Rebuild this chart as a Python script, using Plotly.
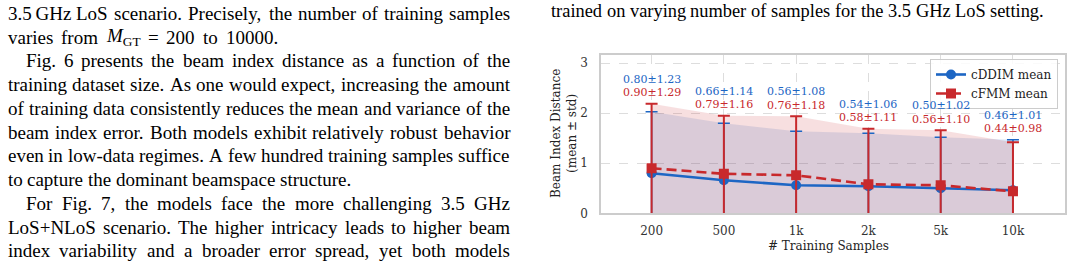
import plotly.graph_objects as go

# ---------------- data ----------------
categories = ["200", "500", "1k", "2k", "5k", "10k"]
cddim_mean = [0.80, 0.66, 0.56, 0.54, 0.50, 0.46]
cddim_std = [1.23, 1.14, 1.08, 1.06, 1.02, 1.01]
cfmm_mean = [0.90, 0.79, 0.76, 0.58, 0.56, 0.44]
cfmm_std = [1.29, 1.16, 1.18, 1.11, 1.10, 0.98]
y_ticks = [0, 1, 2, 3]

# paper text (left column), (text, indented, justified)
left_lines = [
    ("3.5\u2009GHz LoS scenario. Precisely, the number of training samples", False, True),
    (None, False, False),  # math line, built below
    ("Fig. 6 presents the beam index distance as a function of the", True, True),
    ("training dataset size. As one would expect, increasing the amount", False, True),
    ("of training data consistently reduces the mean and variance of the", False, True),
    ("beam index error. Both models exhibit relatively robust behavior", False, True),
    ("even in low-data regimes. A few hundred training samples suffice", False, True),
    ("to capture the dominant beamspace structure.", False, False),
    ("For Fig. 7, the models face the more challenging 3.5 GHz", True, True),
    ("LoS+NLoS scenario. The higher intricacy leads to higher beam", False, True),
    ("index variability and a broader error spread, yet both models", False, True),
]
math_words = ["varies", "from", "<i>M</i><sub>GT</sub>", "=", "200", "to", "10000."]
caption_line = "trained on varying number of samples for the 3.5 GHz LoS setting."

W, H = 1073, 267
BLUE = "#1d66c4"
RED = "#c8292c"
CHART_FONT = "DejaVu Serif"
BODY_FONT = "Liberation Serif"

# Times metrics (per 1000 em) for word placement
TW = {' ': 250, '\u2009': 167, ',': 250, '.': 250, '-': 333, '+': 564, '=': 564, ':': 278}
for c in "0123456789":
    TW[c] = 500
TW.update(dict(zip("ABCDEFGHIJKLMNOPQRSTUVWXYZ",
                   [722, 667, 667, 722, 611, 556, 722, 722, 333, 389, 722, 611, 889, 722, 722, 556, 722, 667, 556,
                    611, 722, 722, 944, 722, 722, 611])))
TW.update(dict(zip("abcdefghijklmnopqrstuvwxyz",
                   [444, 500, 444, 500, 444, 333, 500, 500, 278, 278, 500, 278, 778, 500, 500, 500, 500, 333, 389,
                    278, 500, 500, 722, 500, 500, 444])))


def units(s):
    return sum(TW.get(ch, 500) for ch in s)


annotations = []


def word_ann(text, xpx, ypx, fs, family=BODY_FONT, color="#000"):
    annotations.append(dict(
        text=text, x=xpx / W, y=1 - ypx / H, xref="paper", yref="paper",
        xanchor="left", yanchor="middle", showarrow=False, borderpad=0,
        font=dict(family=family, size=fs, color=color)))


def place_words(words, widths, x0, x1, ypx, fs, justify):
    if justify and len(words) > 1:
        gap = (x1 - x0 - sum(widths)) / (len(words) - 1)
    else:
        gap = TW[' '] * fs / 1000
    x = x0
    for w, wd in zip(words, widths):
        word_ann(w, x, ypx, fs)
        x += wd + gap


def place_line(text, x0, x1, ypx, fs, justify):
    words = text.split(" ")
    place_words(words, [units(w) * fs / 1000 for w in words], x0, x1, ypx, fs, justify)


FS = 19
LX0, LIND, LX1 = 6.5, 25, 509
LINE0, LSTEP = 13.4, 23.75
for i, (txt, ind, just) in enumerate(left_lines):
    yc = LINE0 + LSTEP * i
    if txt is None:
        # "varies from M_GT = 200 to 10000." (stretched spacing in the typeset page)
        mw = [units("varies"), units("from"), 833 + 0.7 * (722 + 611), 564, 1500, units("to"), units("10000.")]
        place_words(math_words, [u * FS / 1000 for u in mw], LX0, 277, yc, FS, True)
        continue
    place_line(txt, LIND if ind else LX0, LX1, yc, FS, just)

place_line(caption_line, 550, 1043, 11.0, 18.4, True)

# ---------------- chart ----------------
fig = go.Figure()


def bounds(m, s):
    up = [round(a + b, 2) for a, b in zip(m, s)]
    lo = [max(0.0, round(a - b, 2)) for a, b in zip(m, s)]
    return lo, up


b_lo, b_up = bounds(cddim_mean, cddim_std)
r_lo, r_up = bounds(cfmm_mean, cfmm_std)

for lo, up, fc in [(b_lo, b_up, "rgba(29,102,196,0.15)"), (r_lo, r_up, "rgba(200,41,44,0.15)")]:
    fig.add_trace(go.Scatter(x=categories, y=lo, mode="lines", line=dict(width=0),
                             showlegend=False, hoverinfo="skip"))
    fig.add_trace(go.Scatter(x=categories, y=up, mode="lines", line=dict(width=0), fill="tonexty",
                             fillcolor=fc, showlegend=False, hoverinfo="skip"))

fig.add_trace(go.Scatter(
    x=categories, y=cddim_mean, mode="lines+markers", name="cDDIM mean",
    line=dict(color=BLUE, width=2.6), marker=dict(symbol="circle", size=10, color=BLUE),
    error_y=dict(type="data", array=cddim_std, visible=True, color=BLUE, thickness=1.6, width=6)))
fig.add_trace(go.Scatter(
    x=categories, y=cfmm_mean, mode="lines+markers", name="cFMM mean",
    line=dict(color=RED, width=2.6, dash="10px,5px"), marker=dict(symbol="square", size=10, color=RED),
    error_y=dict(type="data", array=cfmm_std, visible=True, color=RED, thickness=2, width=6)))

for i, (bm, bs, rm, rs, bu, ru) in enumerate(zip(cddim_mean, cddim_std, cfmm_mean, cfmm_std, b_up, r_up)):
    top = max(bu, ru)
    annotations.append(dict(text=f"{bm:.2f}±{bs:.2f}", x=i, y=top, xref="x", yref="y", yshift=24.5,
                            showarrow=False, xanchor="center", yanchor="middle",
                            font=dict(family=CHART_FONT, size=11, color=BLUE)))
    annotations.append(dict(text=f"{rm:.2f}±{rs:.2f}", x=i, y=top, xref="x", yref="y", yshift=11,
                            showarrow=False, xanchor="center", yanchor="middle",
                            font=dict(family=CHART_FONT, size=11, color=RED)))

# axis titles
annotations.append(dict(text="# Training Samples", x=828 / W, y=1 - 246 / H, xref="paper", yref="paper",
                        showarrow=False, xanchor="center", yanchor="middle",
                        font=dict(family=CHART_FONT, size=12, color="#222")))
annotations.append(dict(text="Beam Index Distance<br>(mean ± std)", x=564 / W, y=1 - 134 / H,
                        xref="paper", yref="paper", textangle=-90, showarrow=False,
                        xanchor="center", yanchor="middle",
                        font=dict(family=CHART_FONT, size=12, color="#222")))

X0, X1, YT, YB = 601, 1065, 54.7, 213.3
fig.update_layout(
    width=W, height=H, margin=dict(l=0, r=0, t=0, b=0),
    paper_bgcolor="white", plot_bgcolor="white",
    showlegend=True,
    legend=dict(x=1058 / W, y=1 - 59 / H, xanchor="right", yanchor="top", traceorder="normal",
                bgcolor="rgba(255,255,255,0.85)", bordercolor="#cccccc", borderwidth=1,
                font=dict(family=CHART_FONT, size=12, color="#222"), tracegroupgap=0),
    xaxis=dict(domain=[X0 / W, X1 / W], range=[-0.7, 5.72], type="category",
               showgrid=True, gridcolor="#dddddd", griddash="dash", gridwidth=0.8,
               showline=True, mirror=True, linecolor="#cccccc", linewidth=1.5,
               ticks="", ticklabelstandoff=6, automargin=False,
               tickfont=dict(family=CHART_FONT, size=12, color="#333")),
    yaxis=dict(domain=[1 - YB / H, 1 - YT / H], range=[0, 3.17], tickvals=y_ticks,
               showgrid=True, gridcolor="#dddddd", griddash="dash", gridwidth=0.8, zeroline=False,
               showline=True, mirror=True, linecolor="#cccccc", linewidth=1.5,
               ticks="", ticklabelstandoff=9, automargin=False,
               tickfont=dict(family=CHART_FONT, size=12, color="#333")),
    annotations=annotations,
)

fig.write_html("out.html", config={"displayModeBar": False})
